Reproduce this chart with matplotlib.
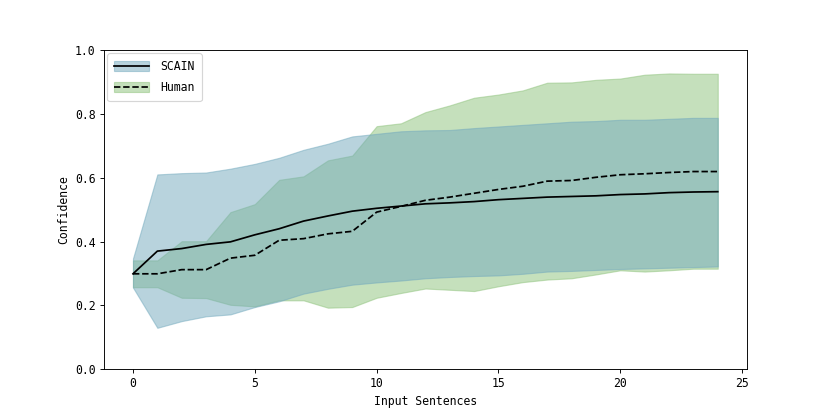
import matplotlib
matplotlib.use("Agg")
import matplotlib.pyplot as plt

plt.rcParams['font.family'] = ['DejaVu Sans Mono']

# number of input sentences
sentences = list(range(25))

# SCAIN confidence: mean and band
scain_mean = [0.299, 0.370, 0.378, 0.391, 0.399, 0.421, 0.440, 0.464, 0.480, 0.495,
              0.504, 0.511, 0.518, 0.521, 0.525, 0.531, 0.535, 0.539, 0.541, 0.543,
              0.547, 0.549, 0.553, 0.555, 0.556]
scain_low = [0.256, 0.130, 0.151, 0.166, 0.172, 0.195, 0.213, 0.237, 0.252, 0.265,
             0.272, 0.278, 0.285, 0.289, 0.292, 0.294, 0.299, 0.306, 0.308, 0.311,
             0.314, 0.316, 0.318, 0.320, 0.322]
scain_high = [0.347, 0.610, 0.614, 0.616, 0.628, 0.643, 0.662, 0.687, 0.706, 0.729,
              0.737, 0.745, 0.748, 0.749, 0.755, 0.760, 0.765, 0.770, 0.775, 0.777,
              0.781, 0.781, 0.784, 0.787, 0.787]

# Human confidence: mean and band
human_mean = [0.299, 0.299, 0.312, 0.312, 0.348, 0.357, 0.404, 0.409, 0.424, 0.432,
              0.492, 0.510, 0.529, 0.539, 0.551, 0.563, 0.573, 0.589, 0.591, 0.601,
              0.609, 0.612, 0.616, 0.619, 0.619]
human_low = [0.257, 0.257, 0.224, 0.223, 0.202, 0.197, 0.216, 0.216, 0.193, 0.195,
             0.224, 0.239, 0.253, 0.249, 0.245, 0.260, 0.273, 0.281, 0.285, 0.297,
             0.310, 0.306, 0.310, 0.315, 0.315]
human_high = [0.341, 0.341, 0.401, 0.401, 0.492, 0.517, 0.593, 0.604, 0.654, 0.669,
              0.761, 0.770, 0.805, 0.826, 0.850, 0.860, 0.873, 0.897, 0.898, 0.906,
              0.910, 0.922, 0.926, 0.925, 0.925]


def main():
    fig, ax = plt.subplots(figsize=(10, 5), dpi=83)

    green = ax.fill_between(sentences, human_low, human_high, color='#8dc27b', alpha=0.5)
    blue = ax.fill_between(sentences, scain_low, scain_high, color='#72a9bd', alpha=0.5)
    l1, = ax.plot(sentences, scain_mean, color='black', linewidth=1.5)
    l2, = ax.plot(sentences, human_mean, color='black', linestyle='--', linewidth=1.5)

    ax.set_ylim(0, 1.0)
    ax.set_xlabel("Input Sentences")
    ax.set_ylabel("Confidence")
    ax.legend([(blue, l1), (green, l2)], ["SCAIN", "Human"], loc='upper left',
              handlelength=3.0, handleheight=1.0, labelspacing=0.7,
              borderpad=0.6, borderaxespad=0.3, handletextpad=1.0)

    fig.savefig("out.png")


if __name__ == '__main__':
    main()
